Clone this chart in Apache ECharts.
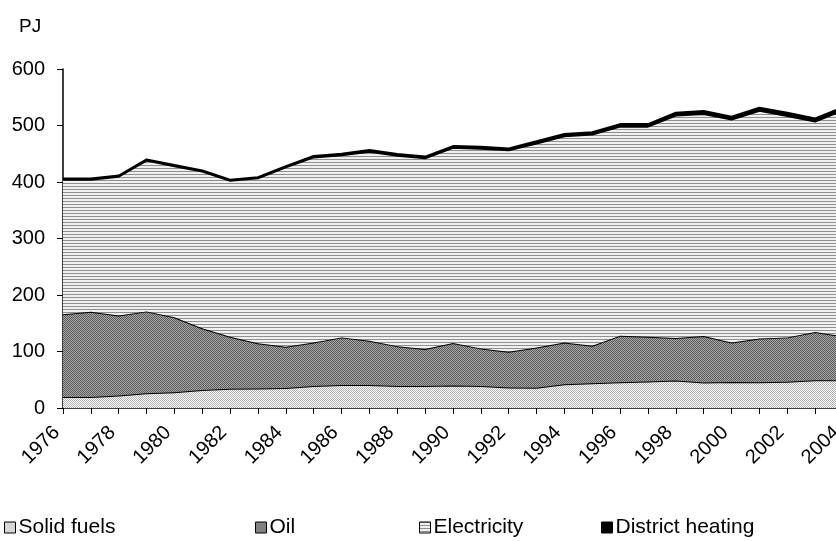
<!DOCTYPE html>
<html>
<head>
<meta charset="utf-8">
<script src="https://cdn.jsdelivr.net/npm/echarts@6/dist/echarts.min.js"></script>
<style>
  html, body { margin: 0; padding: 0; background: #fff; }
  #chart { width: 836px; height: 541px; }
</style>
</head>
<body>
<div id="chart"></div>
<script>
const years = ['1976', '1977', '1978', '1979', '1980', '1981', '1982', '1983', '1984', '1985',
  '1986', '1987', '1988', '1989', '1990', '1991', '1992', '1993', '1994', '1995',
  '1996', '1997', '1998', '1999', '2000', '2001', '2002', '2003', '2004']

const solidFuels = [19.5, 19.5, 22, 26, 28, 32, 34, 34.5, 35.5, 39,
  40.5, 40.5, 39, 39, 40, 39, 36.5, 36, 42, 44,
  45.5, 47, 48.5, 45, 46, 45.5, 46.5, 49, 49]

const oil = [146.5, 151, 141.5, 145, 132.5, 109, 92, 80, 73, 77,
  84.5, 78.5, 70.5, 65.5, 75, 66.5, 63, 71, 74, 66,
  82.5, 79, 75.5, 82.5, 70, 77.5, 78.5, 85.5, 78]

const electricity = [238, 233.5, 246, 267, 267.5, 277.5, 276, 292, 317.5, 327.5,
  322.5, 334.5, 337, 337.5, 345.5, 353.5, 356.5, 361, 365, 374,
  370, 372, 393.5, 393, 394.5, 403, 392, 372.5, 400]

const districtHeating = [2, 2, 2, 2, 2, 2, 2, 2, 2, 2.5,
  2.5, 3, 3, 3, 3, 3.5, 3.5, 4, 4, 4,
  4.5, 4.5, 5, 5, 5, 5.5, 5.5, 5.5, 5.5]

const seriesNames = ['Solid fuels', 'Oil', 'Electricity', 'District heating']

// small canvas tiles used as fill patterns
const makeTile = (w, h, draw) => {
  const c = document.createElement('canvas')
  c.width = w
  c.height = h
  draw(c.getContext('2d'))
  return { image: c, repeat: 'repeat' }
}

const solidPat = makeTile(2, 2, ctx => {
  ctx.fillStyle = '#ffffff'
  ctx.fillRect(0, 0, 2, 2)
  ctx.fillStyle = '#b0b0b0'
  ctx.fillRect(0, 0, 1, 1)
  ctx.fillRect(1, 1, 1, 1)
})

const oilPat = makeTile(2, 2, ctx => {
  ctx.fillStyle = '#a6a6a6'
  ctx.fillRect(0, 0, 2, 2)
  ctx.fillStyle = '#5c5c5c'
  ctx.fillRect(0, 0, 1, 1)
  ctx.fillRect(1, 1, 1, 1)
})

const elecPat = makeTile(1, 3, ctx => {
  ctx.fillStyle = '#f0f0f0'
  ctx.fillRect(0, 0, 1, 3)
  ctx.fillStyle = '#909090'
  ctx.fillRect(0, 0, 1, 1)
})

const fills = [solidPat, oilPat, elecPat, '#000000']
const values = [solidFuels, oil, electricity, districtHeating]
const legendLeft = [-1, 250, 414, 596]

const FONT = 'Liberation Sans, Arial, sans-serif'

const myChart = echarts.init(document.getElementById('chart'), null, { renderer: 'canvas' })

const option = {
  animation: false,
  backgroundColor: '#ffffff',
  title: {
    text: 'PJ',
    left: 14,
    top: 12,
    textStyle: { fontSize: 19, fontWeight: 'normal', color: '#000', fontFamily: FONT }
  },
  legend: seriesNames.map((name, i) => ({
    left: legendLeft[i],
    top: 512,
    itemWidth: 11,
    itemHeight: 11,
    itemGap: 4,
    selectedMode: false,
    textStyle: { fontSize: 21, color: '#000', fontFamily: FONT, padding: [0, 0, 0, -2] },
    data: [{
      name,
      icon: 'rect',
      itemStyle: { color: fills[i], borderColor: '#000', borderWidth: 1 }
    }]
  })),
  grid: {
    left: 63,
    right: -7,
    top: 69,
    bottom: 133,
    containLabel: false,
    outerBoundsMode: 'none'
  },
  xAxis: {
    type: 'category',
    boundaryGap: false,
    data: years,
    axisLine: { lineStyle: { color: '#000', width: 1.5 } },
    axisTick: { show: true, interval: 0, length: 6, lineStyle: { color: '#000' } },
    axisLabel: {
      interval: 1,
      rotate: 45,
      margin: 15,
      padding: [0, 9, 0, 0],
      fontSize: 20,
      color: '#000',
      fontFamily: FONT
    },
    splitLine: { show: false }
  },
  yAxis: {
    type: 'value',
    min: 0,
    max: 600,
    interval: 100,
    axisLine: { show: true, lineStyle: { color: '#000', width: 1.5 } },
    axisTick: { show: true, length: 6, lineStyle: { color: '#000' } },
    axisLabel: { margin: 18, fontSize: 20, color: '#000', fontFamily: FONT },
    splitLine: { show: false }
  },
  series: seriesNames.map((name, i) => ({
    name,
    type: 'line',
    stack: 'total',
    symbol: 'none',
    data: values[i],
    lineStyle: { color: '#000', width: 2 },
    itemStyle: { color: fills[i] },
    areaStyle: { color: fills[i], opacity: 1 },
    z: 2 + i
  }))
}

myChart.setOption(option)
</script>
</body>
</html>
